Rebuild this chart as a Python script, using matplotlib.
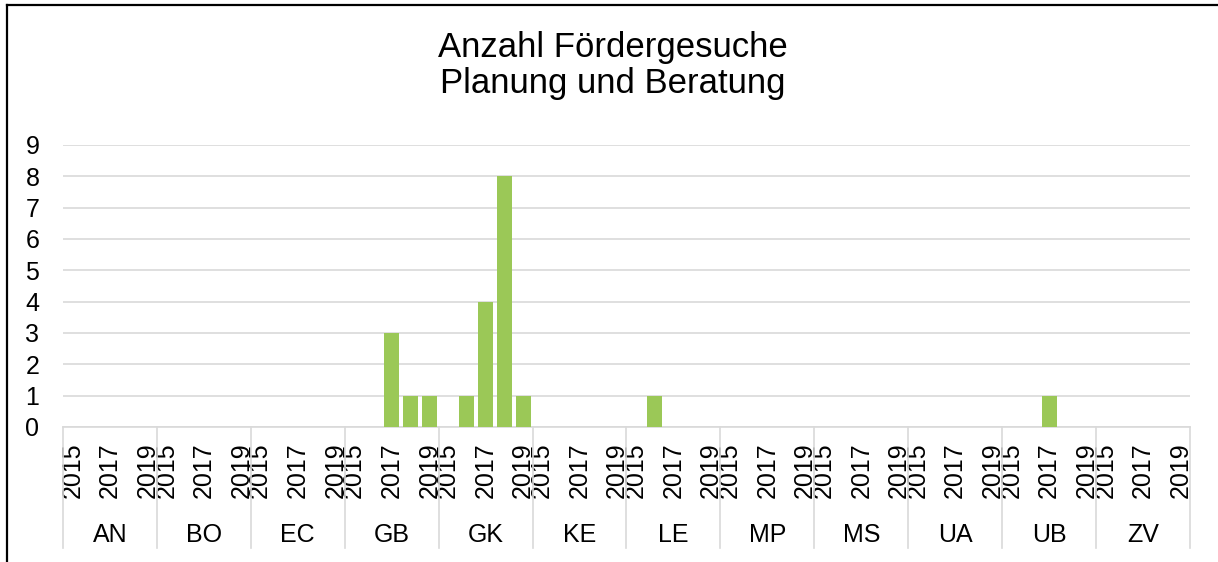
import numpy as np
import matplotlib.pyplot as plt
from matplotlib.lines import Line2D
from matplotlib.transforms import blended_transform_factory

plt.rcParams['font.family'] = ['Liberation Sans', 'DejaVu Sans']

# Data
groups = ['AN', 'BO', 'EC', 'GB', 'GK', 'KE', 'LE', 'MP', 'MS', 'UA', 'UB', 'ZV']
years = [2015, 2016, 2017, 2018, 2019]
shown_years = [2015, 2017, 2019]
counts = {
    'GB': [0, 0, 3, 1, 1],
    'GK': [0, 1, 4, 8, 1],
    'LE': [0, 1, 0, 0, 0],
    'UB': [0, 0, 1, 0, 0],
}
title_lines = ['Anzahl Fördergesuche', 'Planung und Beratung']

values = []
for g in groups:
    values += counts.get(g, [0] * len(years))
values = np.array(values)
n = len(values)
x = np.arange(n)

W, H = 1218, 562
fig = plt.figure(figsize=(W / 100, H / 100), dpi=100)
ax = fig.add_axes([63 / W, 1 - 427 / H, (1190 - 63) / W, (427 - 145) / H])

grid_c = '#D9D9D9'
ax.bar(x, values, width=0.8, color='#9BC857', zorder=3)
ax.set_xlim(-0.5, n - 0.5)
ax.set_ylim(0, 9)
ax.set_yticks(range(10))
ax.yaxis.grid(True, color=grid_c, linewidth=1.2)
ax.set_axisbelow(True)
for s in ['top', 'right', 'left']:
    ax.spines[s].set_visible(False)
ax.spines['bottom'].set_color(grid_c)
ax.spines['bottom'].set_linewidth(1.2)

# year tick labels
tick_pos, tick_lab = [], []
for gi, g in enumerate(groups):
    for y in shown_years:
        tick_pos.append(gi * len(years) + years.index(y))
        tick_lab.append(str(y))
ax.set_xticks(tick_pos)
ax.set_xticklabels(tick_lab, rotation=90, fontsize=18)
ax.tick_params(axis='x', length=0, pad=11)
ax.tick_params(axis='y', length=0, pad=17, labelsize=18)

# group separators and labels
trans = blended_transform_factory(ax.transData, ax.transAxes)
for gi in range(len(groups) + 1):
    xs = gi * len(years) - 0.5
    ax.add_line(Line2D([xs, xs], [0, -0.43], transform=trans, color=grid_c,
                       linewidth=1.2, clip_on=False))
for gi, g in enumerate(groups):
    ax.text(gi * len(years) + 2, -0.383, g, transform=trans, ha='center',
            va='center', fontsize=18)

# title
fig.text(613 / W, 1 - 57 / H, title_lines[0], ha='center', va='baseline', fontsize=25)
fig.text(613 / W, 1 - 93 / H, title_lines[1], ha='center', va='baseline', fontsize=25)

# chart border
fig.add_artist(Line2D([7 / W, 7 / W], [-0.1, 1 - 5 / H], transform=fig.transFigure,
                      color='black', linewidth=1.6))
fig.add_artist(Line2D([7 / W, 1.1], [1 - 5 / H, 1 - 5 / H], transform=fig.transFigure,
                      color='black', linewidth=1.6))

fig.savefig('out.png', dpi=100)
